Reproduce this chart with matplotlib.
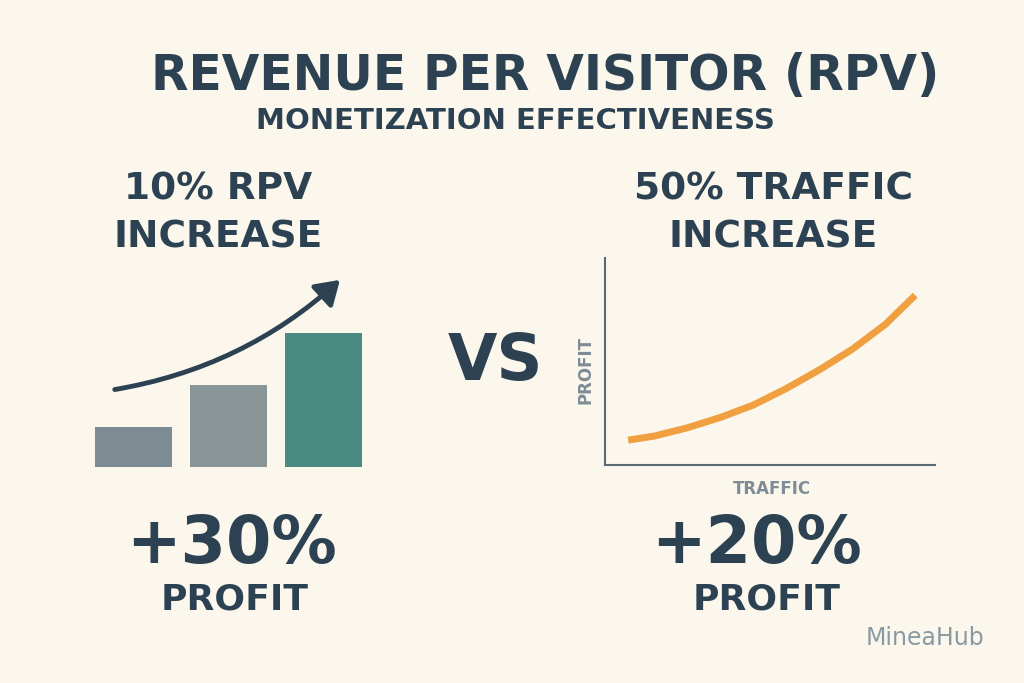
import matplotlib
matplotlib.use("Agg")
import matplotlib.pyplot as plt

bar_labels = ["Before", "Middle", "After"]
bar_values = [30, 61, 100]
bar_colors = ["#7d8b92", "#8a9597", "#4a8a80"]
traffic = [7, 15, 25, 35, 45, 55, 65, 75, 85, 94]
profit = [12, 14, 18, 23, 29, 37, 46, 56, 68, 82]

BG = "#fbf7ec"
DARK = "#2c4253"
GRAY = "#7f8c95"
W, H = 1024, 683

fig = plt.figure(figsize=(10.24, 6.83), dpi=100, facecolor=BG)

def t(x, y, s, size, color=DARK, weight="bold", **kw):
    fig.text(x / W, 1 - y / H, s, fontsize=size, color=color, weight=weight,
             ha=kw.pop("ha", "center"), va=kw.pop("va", "center"), family="DejaVu Sans", **kw)

t(545, 76, "REVENUE PER VISITOR (RPV)", 35)
t(515, 121, "MONETIZATION EFFECTIVENESS", 21)
t(218, 190, "10% RPV", 27)
t(218, 237, "INCREASE", 27)
t(773, 190, "50% TRAFFIC", 27)
t(773, 237, "INCREASE", 27)
t(495, 362, "VS", 46)
t(232, 545, "+30%", 47)
t(235, 600, "PROFIT", 26)
t(757, 545, "+20%", 47)
t(767, 600, "PROFIT", 26)
t(925, 638, "MineaHub", 17, color="#8a9aa3", weight="normal")

# bars
ax = fig.add_axes([86 / W, (H - 467) / H, 285 / W, 207 / H])
ax.set_facecolor("none")
ax.bar(range(3), bar_values, width=0.82, color=bar_colors)
ax.set_xlim(-0.5, 2.5)
ax.set_ylim(0, 154)
ax.axis("off")

fig.add_artist(matplotlib.patches.FancyArrowPatch(
    (112 / W, 1 - 390 / H), (342 / W, 1 - 278 / H), transform=fig.transFigure,
    connectionstyle="arc3,rad=0.15", arrowstyle="-|>,head_length=14,head_width=9",
    color=DARK, lw=3.5, mutation_scale=1))

# curve
ax2 = fig.add_axes([605 / W, (H - 465) / H, 330 / W, 207 / H])
ax2.set_facecolor("none")
ax2.plot(traffic, profit, color="#f0a040", lw=5, solid_capstyle="butt")
ax2.set_xlim(0, 100)
ax2.set_ylim(0, 100)
for s in ["top", "right"]:
    ax2.spines[s].set_visible(False)
for s in ["left", "bottom"]:
    ax2.spines[s].set_color("#5a6a73")
    ax2.spines[s].set_linewidth(1.5)
ax2.set_xticks([])
ax2.set_yticks([])
t(585, 370, "PROFIT", 12, color=GRAY, rotation=90)
t(772, 489, "TRAFFIC", 12, color=GRAY)

fig.savefig("out.png", dpi=100, facecolor=BG)
